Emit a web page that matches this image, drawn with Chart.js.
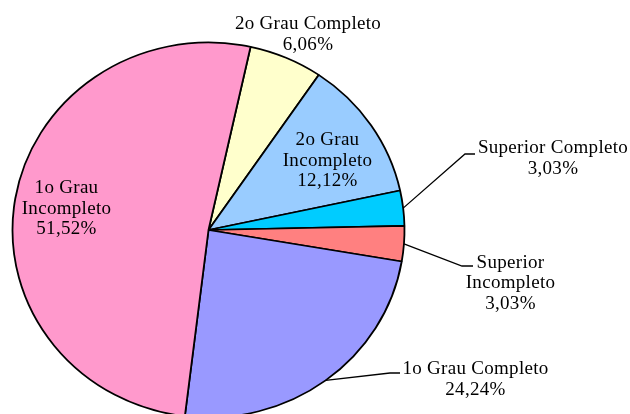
<!DOCTYPE html>
<html>
<head>
<meta charset="utf-8">
<script src="https://cdn.jsdelivr.net/npm/chart.js@4/dist/chart.umd.min.js"></script>
<style>
  html, body { margin: 0; padding: 0; background: #fff; overflow: hidden; }
  #wrap { position: relative; width: 630px; height: 414px; }
</style>
</head>
<body>
<div id="wrap"><canvas id="escolaridade-chart"></canvas></div>
<script>
// slices, clockwise from the top
var categories = ['2o Grau Completo', '2o Grau Incompleto', 'Superior Completo',
                  'Superior Incompleto', '1o Grau Completo', '1o Grau Incompleto'];
var shares = [6.06, 12.12, 3.03, 3.03, 24.24, 51.52];
var labelLines = [['2o Grau Completo'], ['2o Grau', 'Incompleto'], ['Superior Completo'],
                  ['Superior', 'Incompleto'], ['1o Grau Completo'], ['1o Grau', 'Incompleto']];
var colors = ['#FFFFCC', '#99CCFF', '#00CCFF', '#FF8080', '#9999FF', '#FF99CC'];

// where the label text sits (first line baseline) and the leader elbow, if any
var labelLayout = [
    {x: 308, y: 29},
    {x: 327.5, y: 145},
    {x: 553, y: 153, elbow: {x: 465, y: 154, end: 475}},
    {x: 510.5, y: 267.5, elbow: {x: 462, y: 266, end: 473}},
    {x: 475.5, y: 374, elbow: {x: 390, y: 373, end: 400}},
    {x: 66.5, y: 193}
];
var squash = 0.957; // the original pie is a little flatter than a circle
var lineHeight = 20.5;

function pct(v) {
    return v.toFixed(2).replace('.', ',') + '%';
}

// draws the arcs slightly flattened around the pie centre
var flattenPie = {
    id: 'flattenPie',
    beforeDatasetsDraw: function (chart) {
        var arc = chart.getDatasetMeta(0).data[0];
        var ctx = chart.ctx;
        ctx.save();
        ctx.translate(arc.x, arc.y);
        ctx.scale(1, squash);
        ctx.translate(-arc.x, -arc.y);
    },
    afterDatasetsDraw: function (chart) {
        chart.ctx.restore();
    }
};

var sliceLabels = {
    id: 'sliceLabels',
    afterDraw: function (chart) {
        var ctx = chart.ctx;
        var arcs = chart.getDatasetMeta(0).data;
        ctx.save();
        ctx.font = '19px "Liberation Serif", "Times New Roman", serif';
        ctx.letterSpacing = '0.3px';
        ctx.fillStyle = '#000';
        ctx.strokeStyle = '#000';
        ctx.lineWidth = 1.3;
        ctx.textAlign = 'center';
        ctx.textBaseline = 'alphabetic';
        arcs.forEach(function (arc, i) {
            var pos = labelLayout[i];
            if (pos.elbow) {
                var mid = (arc.startAngle + arc.endAngle) / 2;
                var sx = arc.x + arc.outerRadius * Math.cos(mid);
                var sy = arc.y + arc.outerRadius * Math.sin(mid) * squash;
                ctx.beginPath();
                ctx.moveTo(sx, sy);
                ctx.lineTo(pos.elbow.x, pos.elbow.y);
                ctx.lineTo(pos.elbow.end, pos.elbow.y);
                ctx.stroke();
            }
            var lines = labelLines[i].concat([pct(shares[i])]);
            lines.forEach(function (t, k) {
                ctx.fillText(t, pos.x, pos.y + k * lineHeight);
            });
        });
        ctx.restore();
    }
};

var ctx = document.getElementById('escolaridade-chart').getContext('2d');
var chart = new Chart(ctx, {
    type: 'pie',
    data: {
        labels: categories,
        datasets: [{
            data: shares,
            backgroundColor: colors,
            borderColor: '#000',
            borderWidth: 1.8,
            clip: false
        }]
    },
    options: {
        responsive: true,
        maintainAspectRatio: false,
        devicePixelRatio: 1,
        animation: false,
        rotation: 12.4,
        radius: 196,
        layout: {
            padding: {left: 0, right: 213, top: 46, bottom: 0}
        },
        plugins: {
            legend: {display: false},
            tooltip: {enabled: false}
        }
    },
    plugins: [flattenPie, sliceLabels]
});
</script>
</body>
</html>
